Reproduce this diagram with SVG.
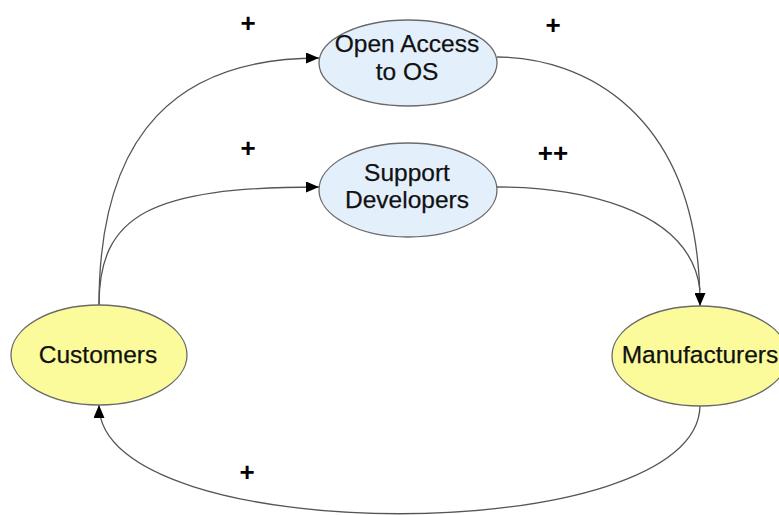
<svg xmlns="http://www.w3.org/2000/svg" width="779" height="515" viewBox="0 0 779 515">
  <defs>
    <style>
      .conn { fill: none; stroke: #555; stroke-width: 1.3; }
      .node-blue { fill: #e3f0fc; stroke: #6a6a6a; stroke-width: 1.3; }
      .node-yellow { fill: #fbfb9b; stroke: #6a6a6a; stroke-width: 1.3; }
      .label { font-family: "Liberation Sans", Arial, sans-serif; font-size: 24.5px; fill: #111; stroke: #111; stroke-width: 0.25; text-anchor: middle; }
      .sign { font-family: "Liberation Sans", Arial, sans-serif; font-size: 26px; font-weight: bold; fill: #000; text-anchor: middle; }
    </style>
    <marker id="arrow" markerUnits="userSpaceOnUse" markerWidth="14" markerHeight="11" refX="13" refY="5.5" orient="auto">
      <path d="M0,0 L13,5.5 L0,11 z" fill="#000"/>
    </marker>
  </defs>

  <g id="connectors">
    <path class="conn" d="M99,305 C99,130 180,58 319,58" marker-end="url(#arrow)"/>
    <path class="conn" d="M99,305 C99,215 150,187 319,187" marker-end="url(#arrow)"/>
    <path class="conn" d="M497,57 C580,57 700,110 700,306" marker-end="url(#arrow)"/>
    <path class="conn" d="M497,187 C570,187 690,205 700,290"/>
    <path class="conn" d="M700,405 C700,550 99,550 99,405" marker-end="url(#arrow)"/>
  </g>

  <g id="signs">
    <text class="sign" x="248" y="32">+</text>
    <text class="sign" x="553" y="34">+</text>
    <text class="sign" x="248" y="157">+</text>
    <text class="sign" x="553" y="162">++</text>
    <text class="sign" x="247" y="481">+</text>
  </g>

  <g id="open-access">
    <ellipse class="node-blue" cx="408" cy="63" rx="89" ry="43"/>
    <text class="label" x="407" y="52">Open Access</text>
    <text class="label" x="407" y="80">to OS</text>
  </g>

  <g id="support-developers">
    <ellipse class="node-blue" cx="408" cy="190" rx="89" ry="47"/>
    <text class="label" x="407" y="181">Support</text>
    <text class="label" x="407" y="208">Developers</text>
  </g>

  <g id="customers">
    <ellipse class="node-yellow" cx="99" cy="355" rx="88" ry="50"/>
    <text class="label" x="98" y="363">Customers</text>
  </g>

  <g id="manufacturers">
    <ellipse class="node-yellow" cx="700" cy="356" rx="88" ry="50"/>
    <text class="label" x="700" y="363">Manufacturers</text>
  </g>
</svg>
